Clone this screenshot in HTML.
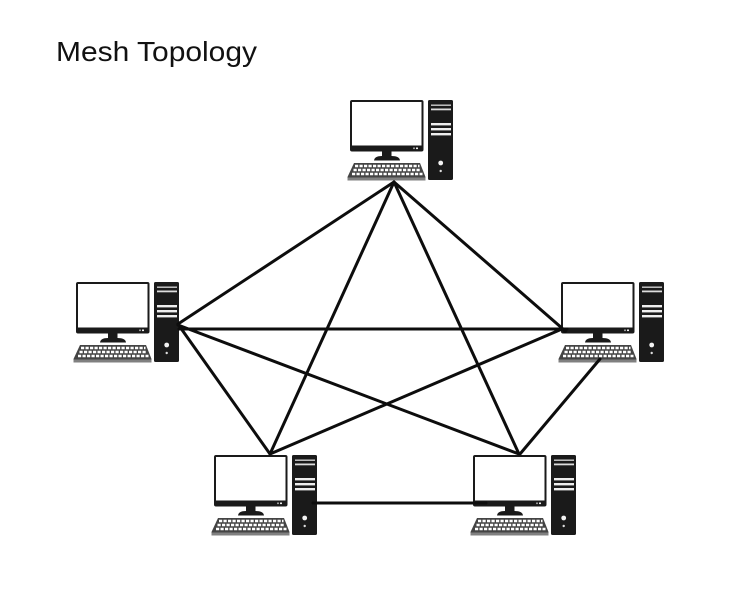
<!DOCTYPE html>
<html>
<head>
<meta charset="utf-8">
<title>Mesh Topology</title>
<style>
html,body{margin:0;padding:0;background:#fff;width:736px;height:595px;overflow:hidden}
svg{display:block}
</style>
</head>
<body>
<svg width="736" height="595" viewBox="0 0 736 595" xmlns="http://www.w3.org/2000/svg">
<defs>
<g id="pc">
  <!-- monitor -->
  <rect x="0" y="0" width="73.5" height="51.5" rx="2" fill="#1a1a1a"/>
  <rect x="2" y="2" width="69.5" height="43.5" fill="#fff"/>
  <rect x="63" y="47.5" width="2" height="1.6" fill="#999"/>
  <rect x="66" y="47.5" width="2" height="1.6" fill="#eee"/>
  <rect x="32" y="51" width="9.5" height="6" fill="#1a1a1a"/>
  <path d="M24 60.5 Q24.5 56 32 56 H41.5 Q49.5 56 50 60.5 Z" fill="#1a1a1a"/>
  <!-- keyboard -->
  <path d="M4 63 H70 L75.5 77 V80.5 H-2.5 V77 Z" fill="#444"/>
  <g stroke="#fff" stroke-width="2.6" fill="none">
    <path d="M5 66 H69.5" stroke-dasharray="3.2 1.3"/>
    <path d="M3.5 70 H71" stroke-dasharray="3.2 1.3"/>
    <path d="M2 74 H72.5" stroke-dasharray="3.2 1.3"/>
  </g>
  <rect x="-2.5" y="77.5" width="78" height="3" fill="#808080"/>
  <!-- tower -->
  <rect x="78" y="0" width="25" height="80" rx="1.5" fill="#1a1a1a"/>
  <rect x="81" y="4.5" width="20" height="1.4" fill="#ccc"/>
  <rect x="81" y="8.5" width="20" height="1.8" fill="#ddd"/>
  <rect x="81" y="23" width="20" height="2.4" fill="#eee"/>
  <rect x="81" y="28" width="20" height="2.4" fill="#eee"/>
  <rect x="81" y="33" width="20" height="2.4" fill="#eee"/>
  <circle cx="90.7" cy="63" r="2.4" fill="#f2f2f2"/>
  <circle cx="90.7" cy="71" r="1.2" fill="#ddd"/>
</g>
</defs>
<rect width="736" height="595" fill="#fff"/>
<text x="56" y="61" font-family="'Liberation Sans',sans-serif" font-size="28" fill="#111" textLength="201" lengthAdjust="spacingAndGlyphs">Mesh Topology</text>
<use href="#pc" x="350" y="100"/>
<use href="#pc" x="76" y="282"/>
<use href="#pc" x="561" y="282"/>
<use href="#pc" x="214" y="455"/>
<use href="#pc" x="473" y="455"/>
<g stroke="#0d0d0d" stroke-width="3" fill="none" stroke-linecap="round">
  <line x1="394" y1="182" x2="178" y2="324"/>
  <line x1="394" y1="182" x2="563" y2="329"/>
  <line x1="394" y1="182" x2="270" y2="454"/>
  <line x1="394" y1="182" x2="519" y2="454"/>
  <line x1="180" y1="327" x2="270" y2="454"/>
  <line x1="178" y1="325" x2="519" y2="454"/>
  <line x1="179" y1="329" x2="567" y2="329"/>
  <line x1="562" y1="329" x2="270" y2="454"/>
  <line x1="600" y1="359" x2="520" y2="454"/>
  <line x1="313" y1="503" x2="486" y2="503"/>
</g>
<circle cx="565" cy="331" r="2.2" fill="#0d0d0d"/>
</svg>
</body>
</html>
